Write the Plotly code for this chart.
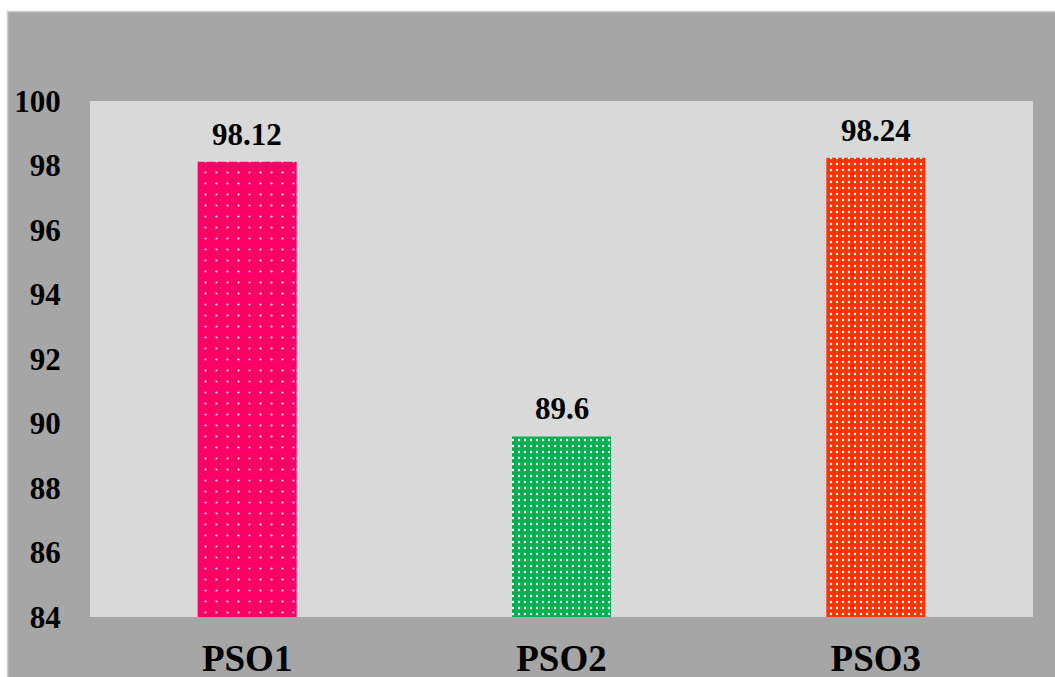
import plotly.graph_objects as go

categories = ["PSO1", "PSO2", "PSO3"]
values = [98.12, 89.6, 98.24]
labels = ["98.12", "89.6", "98.24"]
colors = ["#ff0066", "#00b050", "#ff3300"]
dot_sizes = [11, 6, 6]
dot_solidity = [0.03, 0.12, 0.12]
y_ticks = [84, 86, 88, 90, 92, 94, 96, 98, 100]

FONT = "Liberation Serif"

fig = go.Figure()
for cat, val, col, ps, sol in zip(categories, values, colors, dot_sizes, dot_solidity):
    fig.add_trace(go.Bar(
        x=[cat], y=[val], base=0,
        marker=dict(color=col, line=dict(width=0),
                    pattern=dict(shape=".", fillmode="overlay", fgcolor="white",
                                 fgopacity=1, size=ps, solidity=sol)),
        showlegend=False, hoverinfo="skip",
    ))

for cat, val, lab in zip(categories, values, labels):
    fig.add_annotation(x=cat, y=val, text="<b>" + lab + "</b>", showarrow=False,
                       yanchor="bottom", yshift=8,
                       font=dict(family=FONT, size=31, color="black"))

L, R, T, B = 90, 22, 101, 60
W, H = 1055, 677
pw, ph = W - L - R, H - T - B

def px_x(p):
    return (p - L) / pw

def px_y(p):
    return (H - B - p) / ph

# white strips outside the grey chart area
fig.add_shape(type="rect", xref="paper", yref="paper", x0=px_x(-20), x1=px_x(7.5),
              y0=px_y(H + 20), y1=px_y(-20), fillcolor="white", line_width=0, layer="below")
fig.add_shape(type="rect", xref="paper", yref="paper", x0=px_x(-20), x1=px_x(W + 20),
              y0=px_y(11.5), y1=px_y(-20), fillcolor="white", line_width=0, layer="below")
fig.add_shape(type="rect", xref="paper", yref="paper", x0=px_x(7.5), x1=px_x(W + 20),
              y0=px_y(H + 20), y1=px_y(11.5), fillcolor="rgba(0,0,0,0)",
              line=dict(color="#d0d0d0", width=1.5), layer="below")

fig.update_layout(
    width=W, height=H, autosize=False,
    margin=dict(l=L, r=R, t=T, b=B, autoexpand=False),
    paper_bgcolor="#a6a6a6",
    plot_bgcolor="#d9d9d9",
    bargap=0.685,
    barmode="overlay",
    font=dict(family=FONT, color="black"),
)
fig.update_xaxes(
    categoryorder="array", categoryarray=categories,
    tickvals=categories, ticktext=["<b>" + c + "</b>" for c in categories],
    tickfont=dict(family=FONT, size=37, color="black"),
    showgrid=False, zeroline=False, showline=False, automargin=False,
    ticks="outside", ticklen=9, tickcolor="rgba(0,0,0,0)",
)
fig.update_yaxes(
    range=[84, 100], tickvals=y_ticks,
    ticktext=["<b>%d</b>" % v for v in y_ticks],
    tickfont=dict(family=FONT, size=31, color="black"),
    showgrid=False, zeroline=False, showline=False, automargin=False,
    ticks="outside", ticklen=22, tickcolor="rgba(0,0,0,0)",
)

fig.write_html("out.html", config={"responsive": False, "displayModeBar": False},
               post_script="document.body.style.margin='0';document.body.style.overflow='hidden';")
